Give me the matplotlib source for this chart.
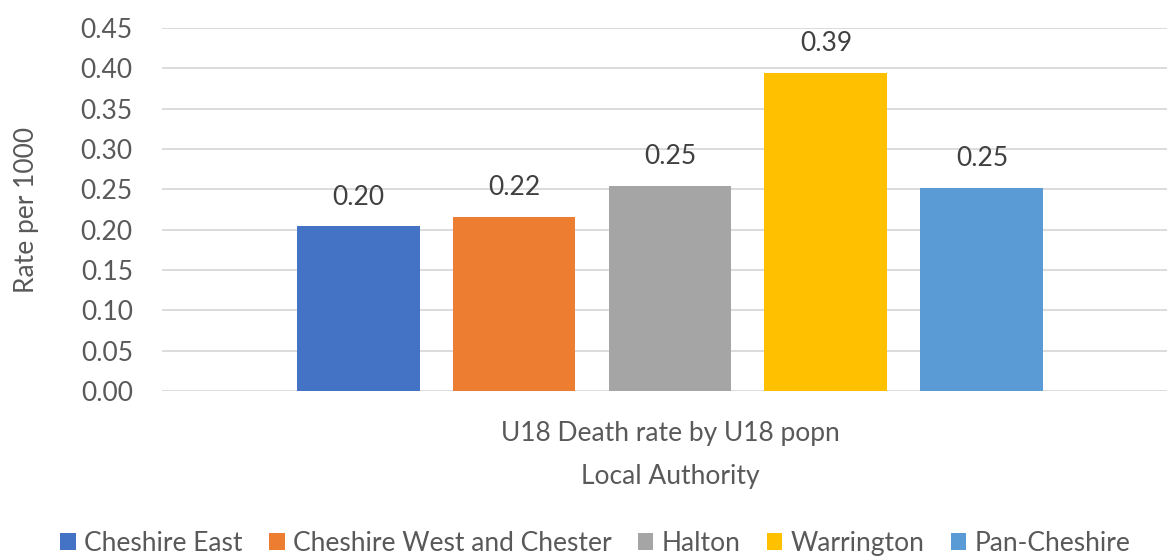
import matplotlib
matplotlib.use('Agg')
from matplotlib import pyplot as plt
from matplotlib.patches import Patch

# data
category = 'U18 Death rate by U18 popn'
authorities = ['Cheshire East', 'Cheshire West and Chester', 'Halton', 'Warrington', 'Pan-Cheshire']
rates = [0.204, 0.216, 0.254, 0.394, 0.252]
colours = ['#4472C4', '#ED7D31', '#A5A5A5', '#FFC000', '#5B9BD5']
yticks = [0.00, 0.05, 0.10, 0.15, 0.20, 0.25, 0.30, 0.35, 0.40, 0.45]

plt.rcParams['font.family'] = ['Lato', 'DejaVu Sans']

text_col = '#595959'
grid_col = '#D9D9D9'

fig = plt.figure(figsize=(11.67, 5.6), dpi=100)
ax = fig.add_axes([0.1388, 0.302, 0.8706, 0.648])

# one category, five series side by side
step = 0.1535
width = 0.121
for i, (name, val, col) in enumerate(zip(authorities, rates, colours)):
    x = (i - (len(rates) - 1) / 2) * step
    ax.bar(x, val, width=width, color=col, zorder=3, label=name)
    ax.annotate(f'{val:.2f}', (x, val), xytext=(0, 12), textcoords='offset points',
                ha='center', va='bottom', fontsize=19, color='#404040')

ax.set_xlim(-0.5, 0.5)
ax.set_ylim(0, 0.45)
ax.set_yticks(yticks)
ax.set_yticklabels([f'{t:.2f}' for t in yticks])
ax.set_xticks([0])
ax.set_xticklabels([category])

ax.grid(axis='y', color=grid_col, linewidth=1.3, zorder=0)
for s in ax.spines.values():
    s.set_visible(False)
ax.tick_params(axis='both', length=0, labelsize=19, labelcolor=text_col)
ax.tick_params(axis='y', pad=21)
ax.tick_params(axis='x', pad=22)

ax.set_xlabel('Local Authority', fontsize=19, color=text_col, labelpad=13)
ax.set_ylabel('Rate per 1000', fontsize=19, color=text_col, labelpad=30)

handles = [Patch(facecolor=c, edgecolor='none') for c in colours]
fig.legend(handles, authorities, loc='center', bbox_to_anchor=(0.51, 0.03), ncol=5,
           frameon=False, fontsize=19, labelcolor=text_col, handlelength=0.6,
           handleheight=0.6, handletextpad=0.3, columnspacing=1.0)

plt.savefig('out.png', dpi=100)
plt.close(fig)
